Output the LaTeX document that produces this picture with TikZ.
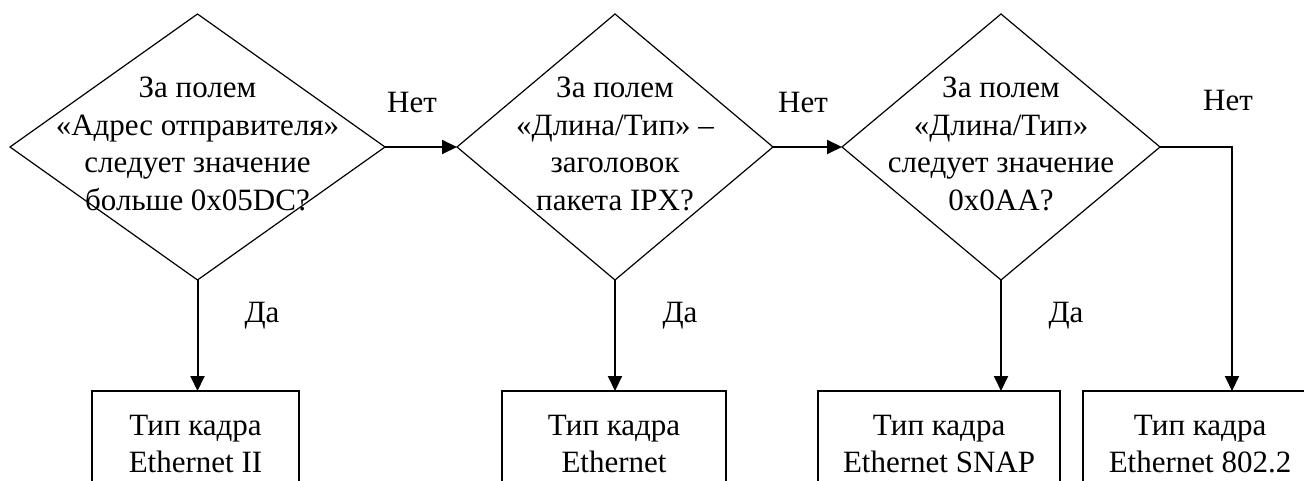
\documentclass[tikz,border=0pt]{standalone}
\usepackage{fontspec}
\setmainfont{Liberation Serif}
\usetikzlibrary{shapes.geometric,arrows.meta}
\begin{document}
\begin{tikzpicture}[x=1pt,y=-1pt,
  every node/.style={font=\fontsize{31}{37.5}\selectfont},
  decision/.style={draw, line width=1.2pt, shape=diamond, inner sep=0pt, outer sep=0pt},
  qtext/.style={align=center, inner sep=0pt, yshift=3pt},
  framebox/.style={draw, line width=1.2pt, rectangle, minimum height=106pt, align=center, inner sep=0pt, outer sep=0pt},
  arr/.style={line width=2pt, -{Triangle[length=15pt,width=14pt]}},
  lbl/.style={anchor=base, inner sep=0pt}]
\useasboundingbox (0,0) rectangle (1304,481);
\clip (0,0) rectangle (1304,481);

% decisions
\node[decision, minimum width=375pt, minimum height=266pt] (q1) at (197.5,147) {};
\node[qtext] (t1) at (q1.center) {За полем\\«Адрес отправителя»\\следует значение\\больше 0x05DC?};
\node[decision, minimum width=316pt, minimum height=266pt] (q2) at (615,147) {};
\node[qtext] (t2) at (q2.center) {За полем\\«Длина/Тип» –\\заголовок\\пакета IPX?};
\node[decision, minimum width=318pt, minimum height=266pt] (q3) at (1001,147) {};
\node[qtext] (t3) at (q3.center) {За полем\\«Длина/Тип»\\следует значение\\0x0AA?};

% frame types
\node[framebox, minimum width=207pt] (b1) at (195.5,444) {Тип кадра\\Ethernet II};
\node[framebox, minimum width=224pt] (b2) at (614,444) {Тип кадра\\Ethernet};
\node[framebox, minimum width=242pt] (b3) at (939,444) {Тип кадра\\Ethernet SNAP};
\node[framebox, minimum width=234pt] (b4) at (1200,444) {Тип кадра\\Ethernet 802.2};
\coordinate (e4) at (1232,391);

% connectors
\draw[arr] (q1.east) -- (q2.west);
\draw[arr] (q2.east) -- (q3.west);
\draw[arr] (q3.east) -| (e4);
\draw[arr] (q1.south) -- (q1.south |- b1.north);
\draw[arr] (q2.south) -- (q2.south |- b2.north);
\draw[arr] (q3.south) -- (q3.south |- b3.north);

% branch labels
\node[lbl] (n1) at (412,113) {Нет};
\node[lbl] (n2) at (803,113) {Нет};
\node[lbl] (n3) at (1228,111) {Нет};
\node[lbl] (y1) at (262,322) {Да};
\node[lbl] (y2) at (680,322) {Да};
\node[lbl] (y3) at (1066,322) {Да};
\end{tikzpicture}
\end{document}
